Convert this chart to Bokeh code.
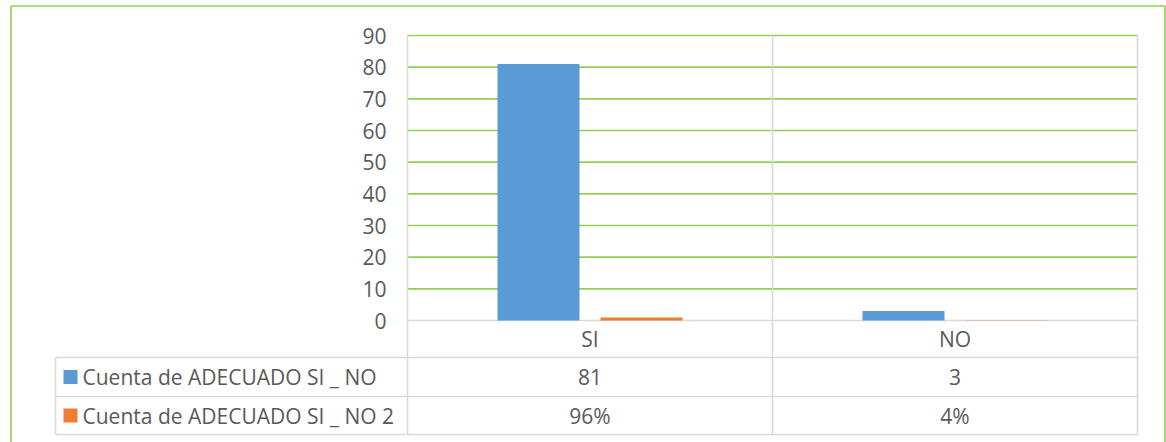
from bokeh.plotting import figure
from bokeh.models import Range1d
from bokeh.embed import file_html
from bokeh.resources import INLINE
from bokeh.core.properties import value

# ---- data ----
categories = ["SI", "NO"]
counts = [81, 3]
shares = [0.96, 0.04]
share_labels = ["96%", "4%"]
series_names = ["Cuenta de ADECUADO SI  _ NO", "Cuenta de ADECUADO SI  _ NO 2"]
series_colors = ["#5B9BD5", "#ED7D31"]
y_ticks = [0, 10, 20, 30, 40, 50, 60, 70, 80, 90]

# ---- layout (pixels -> data) ----
W, H = 1166, 442
X0, XS = 407.0, 365.0        # px of x=0, px per category
Y0, YS = 320.0, 285.0 / 90   # px of y=0, px per unit

def dx(px):
    return (px - X0) / XS

def dy(py):
    return (Y0 - py) / YS

FONT = value("Open Sans")
FS = "21px"
TXT = "#595959"
GRID = "#92D050"
GRAY = "#D9D9D9"

p = figure(width=W, height=H, output_backend="svg", toolbar_location=None,
           x_range=Range1d(dx(0), dx(W)), y_range=Range1d(dy(H), dy(0)),
           x_axis_type=None, y_axis_type=None, min_border=0)
p.outline_line_color = None
p.grid.visible = False

ncat = len(categories)
row_b = [dy(357), dy(396), dy(434)]
leg_left = dx(55)

gy = [t for t in y_ticks if t > 0]
p.segment(x0=[0] * len(gy), x1=[ncat] * len(gy), y0=gy, y1=gy,
          line_color=GRID, line_width=1.6)

vx = list(range(ncat + 1))
p.segment(x0=vx, x1=vx, y0=[max(y_ticks)] * len(vx), y1=[row_b[2]] * len(vx),
          line_color=GRAY, line_width=1.6)
p.segment(x0=[0], x1=[ncat], y0=[0], y1=[0], line_color=GRAY, line_width=1.6)
p.segment(x0=[leg_left] * 3, x1=[ncat] * 3, y0=row_b, y1=row_b,
          line_color=GRAY, line_width=1.6)
p.segment(x0=[leg_left], x1=[leg_left], y0=[row_b[0]], y1=[row_b[2]],
          line_color=GRAY, line_width=1.6)

off = 51.5 / XS
bw = 82 / XS
centers = [i + 0.5 for i in range(ncat)]
p.vbar(x=[c - off for c in centers], top=counts, width=bw, bottom=0,
       fill_color=series_colors[0], line_color=None)
p.vbar(x=[c + off for c in centers], top=shares, width=bw, bottom=0,
       fill_color=series_colors[1], line_color=None)

p.text(x=[dx(386)] * len(y_ticks), y=y_ticks, text=[str(t) for t in y_ticks],
       text_align="right", text_baseline="middle", text_font=FONT,
       text_font_size=FS, text_color=TXT)

p.text(x=centers, y=[(0 + row_b[0]) / 2] * ncat, text=categories,
       text_align="center", text_baseline="middle", text_font=FONT,
       text_font_size=FS, text_color=TXT)

r1 = (row_b[0] + row_b[1]) / 2
r2 = (row_b[1] + row_b[2]) / 2
p.text(x=centers, y=[r1] * ncat, text=[str(v) for v in counts],
       text_align="center", text_baseline="middle", text_font=FONT,
       text_font_size=FS, text_color=TXT)
p.text(x=centers, y=[r2] * ncat, text=share_labels,
       text_align="center", text_baseline="middle", text_font=FONT,
       text_font_size=FS, text_color=TXT)

p.scatter(x=[dx(70)] * 2, y=[r1, r2], marker="square", size=14,
          fill_color=series_colors, line_color=None)
p.text(x=[dx(82)] * 2, y=[r1, r2], text=series_names,
       text_align="left", text_baseline="middle", text_font=FONT,
       text_font_size=FS, text_color=TXT)

p.segment(x0=[dx(10.5), dx(10.5), dx(1164.5)], x1=[dx(10.5), dx(1164.5), dx(1164.5)],
          y0=[dy(H), dy(5.5), dy(5.5)], y1=[dy(5.5), dy(5.5), dy(H)],
          line_color=GRID, line_width=1.6)

open("out.html", "w").write(file_html(p, INLINE))
